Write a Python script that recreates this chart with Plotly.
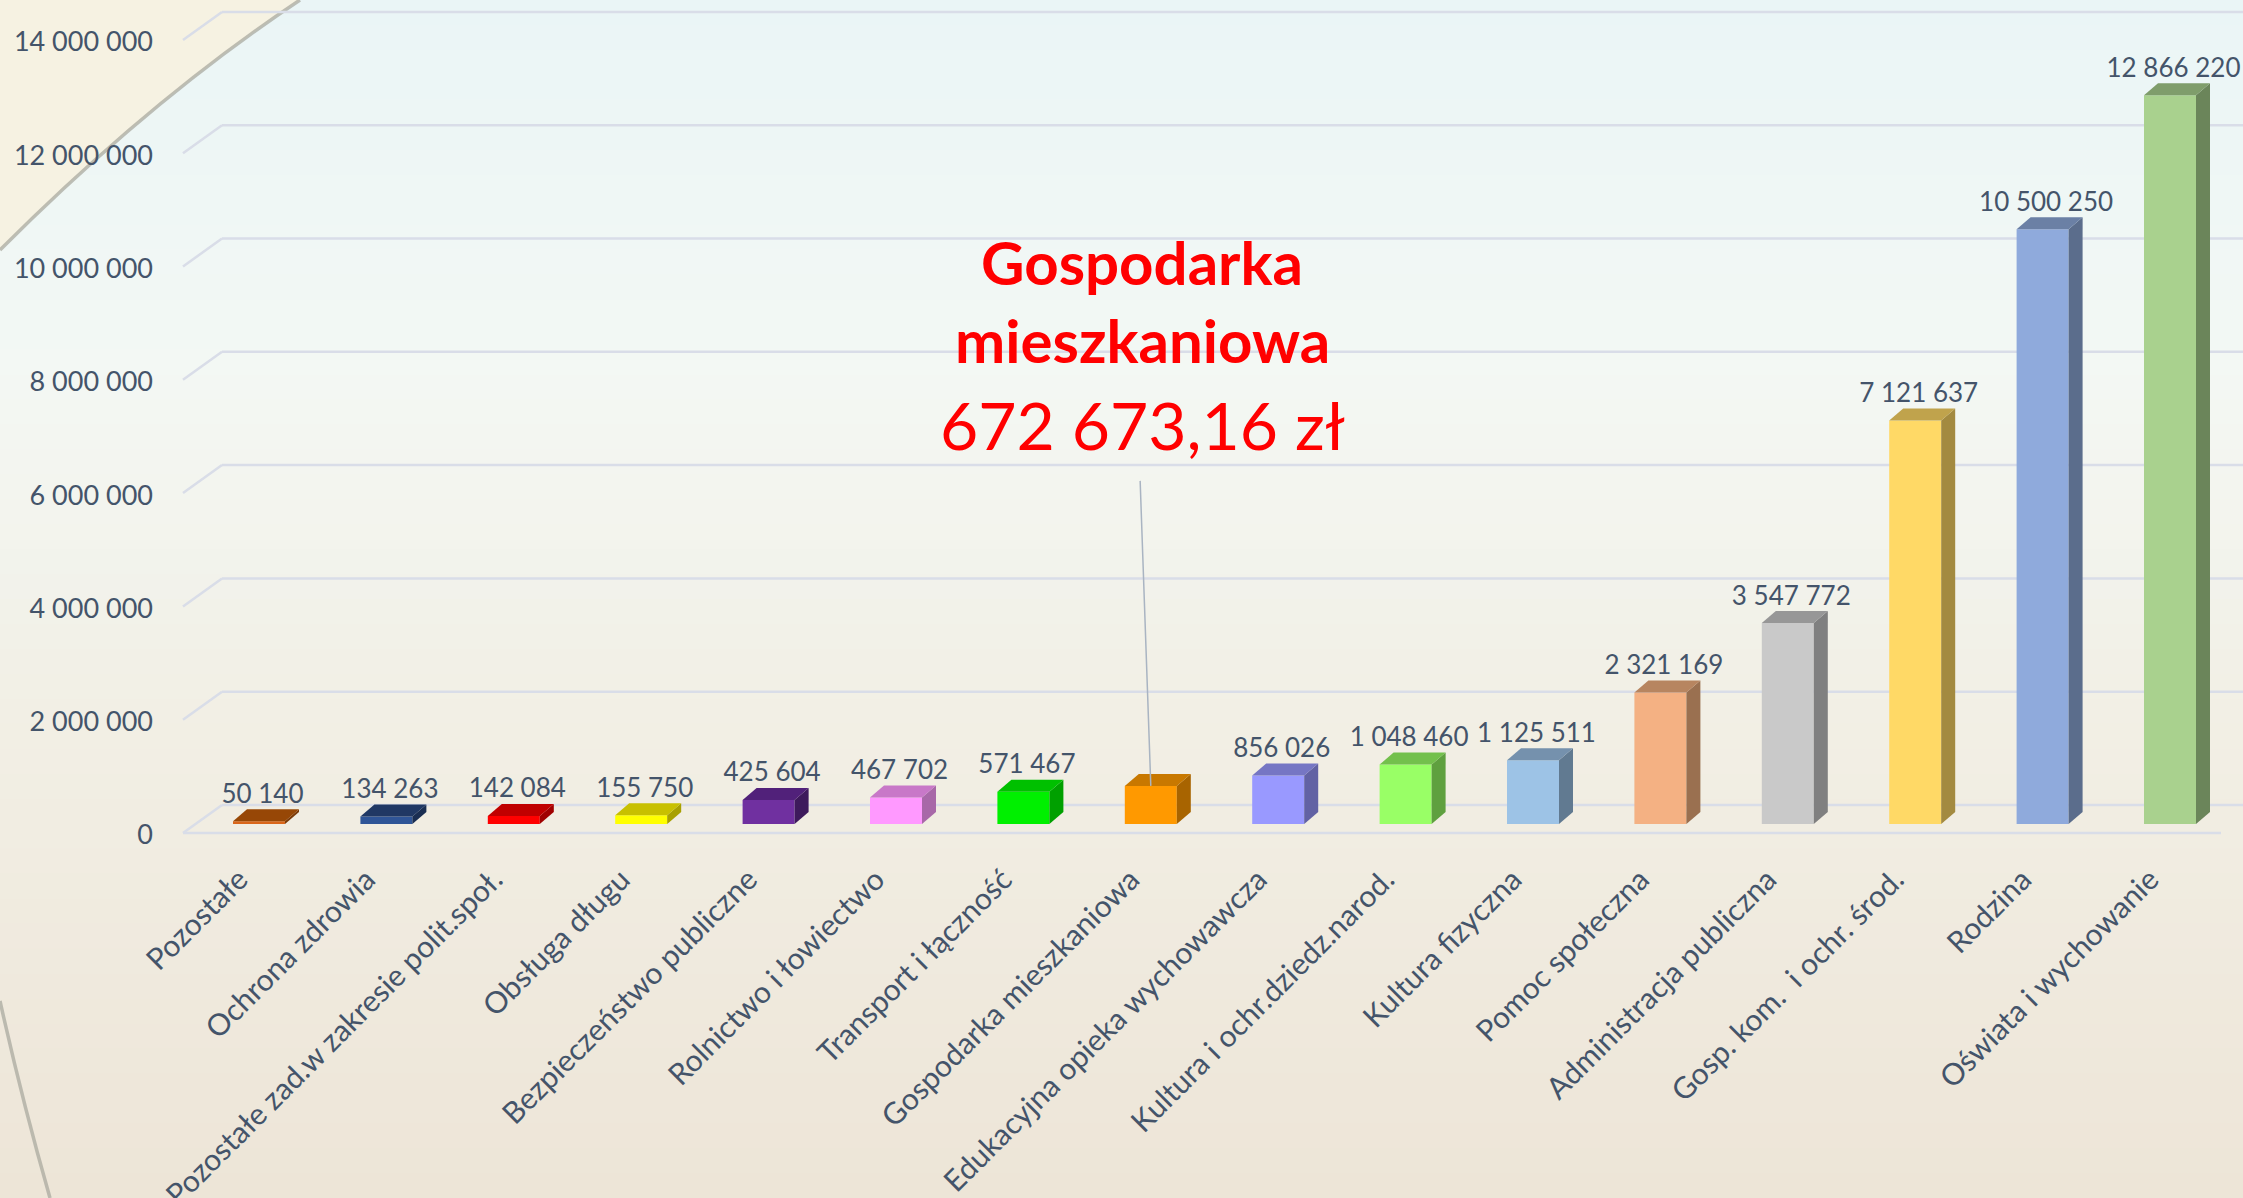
import plotly.graph_objects as go

# ---------------- data ----------------
categories = ["Pozostałe", "Ochrona zdrowia", "Pozostałe zad.w zakresie polit.społ.",
              "Obsługa długu", "Bezpieczeństwo publiczne", "Rolnictwo i łowiectwo",
              "Transport i łączność", "Gospodarka mieszkaniowa",
              "Edukacyjna opieka wychowawcza", "Kultura i ochr.dziedz.narod.",
              "Kultura fizyczna", "Pomoc społeczna", "Administracja publiczna",
              "Gosp. kom.  i ochr. środ.", "Rodzina", "Oświata i wychowanie"]
values = [50140, 134263, 142084, 155750, 425604, 467702, 571467, 672673.16,
          856026, 1048460, 1125511, 2321169, 3547772, 7121637, 10500250, 12866220]
front_colors = ["#D9661B", "#2F5597", "#FF0000", "#FFFF00", "#7030A0", "#FF99FF",
                "#00F000", "#FF9900", "#9999FF", "#99FF66", "#9DC3E6", "#F4B183",
                "#C9C9C9", "#FFD966", "#8FAADC", "#A9D18E"]
top_colors = ["#974706", "#203864", "#C00000", "#C8C000", "#51217A", "#C878C8",
              "#00C000", "#C87800", "#7676C4", "#73C04C", "#7591AD", "#B78560",
              "#979797", "#C0A34C", "#6B80A5", "#7F9D6B"]
side_colors = ["#7A3A08", "#1A2E52", "#A00000", "#A8A000", "#3E1A5C", "#A868A8",
               "#00A000", "#A86400", "#6262A4", "#5FA03F", "#617A91", "#9A7050",
               "#808080", "#A38A40", "#5B6D8C", "#6B855A"]
y_ticks = [0, 2000000, 4000000, 6000000, 8000000, 10000000, 12000000, 14000000]
highlight_index = 7
highlight_title = ["Gospodarka", "mieszkaniowa"]
highlight_value = "672 673,16 zł"

# ---------------- geometry / style ----------------
W, H = 2243, 1198
ML, MR, MT, MB = 205, 0, 0, 365
PW, PH = W - ML - MR, H - MT - MB
CAT_PX = 127.4                     # pixels per category
X0 = (ML - 259) / CAT_PX
X1 = X0 + PW / CAT_PX
PX_PER_UNIT = 56.65e-6             # pixels per zloty
Y0 = -9 / PX_PER_UNIT
Y1 = Y0 + PH / PX_PER_UNIT
BAR_W = 52 / CAT_PX
DX = 14 / CAT_PX                   # 3D depth, x
DY = 12 / PX_PER_UNIT              # 3D depth, y
TXT = "#44546A"
FONT = "Lato"


def px_to_paper_x(px):
    return (px - ML) / PW


def px_to_paper_y(py):
    return (MT + PH - py) / PH


def val_to_paper_y(v):
    return (v - Y0) / (Y1 - Y0)


def fmt(v):
    return f"{int(round(v)):,}".replace(",", " ")


fig = go.Figure()

# front faces
xs = list(range(len(categories)))
fig.add_trace(go.Bar(x=xs, y=values, width=BAR_W, marker=dict(color=front_colors, line=dict(width=0)),
                     hoverinfo="skip", showlegend=False))

# side and top faces (derived from values)
for i, v in enumerate(values):
    xr = i + BAR_W / 2
    xl = i - BAR_W / 2
    fig.add_trace(go.Scatter(x=[xr, xr + DX, xr + DX, xr, xr], y=[0, DY, v + DY, v, 0],
                             fill="toself", fillcolor=side_colors[i], mode="lines",
                             line=dict(width=0, color=side_colors[i]), hoverinfo="skip", showlegend=False))
    fig.add_trace(go.Scatter(x=[xl, xr, xr + DX, xl + DX, xl], y=[v, v, v + DY, v + DY, v],
                             fill="toself", fillcolor=top_colors[i], mode="lines",
                             line=dict(width=0, color=top_colors[i]), hoverinfo="skip", showlegend=False))

# data labels
labels = [("" if i == highlight_index else fmt(v)) for i, v in enumerate(values)]
fig.add_trace(go.Scatter(x=[i + DX / 4 for i in xs], y=[v + DY for v in values], mode="text",
                         text=labels, textposition="top center",
                         textfont=dict(family=FONT, size=26, color=TXT), hoverinfo="skip", showlegend=False))

shapes = []
# background gradient bands
stops = [(0.0, (234, 245, 246)), (0.3, (243, 248, 244)), (0.6, (242, 239, 229)), (1.0, (237, 229, 215))]


def grad(t):
    for (t0, c0), (t1, c1) in zip(stops[:-1], stops[1:]):
        if t <= t1:
            f = (t - t0) / (t1 - t0)
            return "rgb(%d,%d,%d)" % tuple(round(a + (b - a) * f) for a, b in zip(c0, c1))
    return "rgb(%d,%d,%d)" % stops[-1][1]


NB = 48
for k in range(NB):
    ya = k * H / NB
    yb = (k + 1) * H / NB + 1
    shapes.append(dict(type="rect", xref="paper", yref="paper", layer="below",
                       x0=px_to_paper_x(0), x1=px_to_paper_x(W),
                       y0=px_to_paper_y(yb), y1=px_to_paper_y(ya),
                       fillcolor=grad((k + 0.5) / NB), line=dict(width=0)))


# decorative arcs of the slide background
def P(px, py):
    return f"{px_to_paper_x(px):.5f},{px_to_paper_y(py):.5f}"


shapes.append(dict(type="path", xref="paper", yref="paper", layer="below",
                   path=f"M {P(0,0)} L {P(300,0)} Q {P(150,100)} {P(0,250)} Z",
                   fillcolor="#F6F2E2", line=dict(width=0)))
shapes.append(dict(type="path", xref="paper", yref="paper", layer="below",
                   path=f"M {P(300,0)} Q {P(150,100)} {P(0,250)}",
                   line=dict(color="rgba(165,165,155,0.7)", width=3.5)))
shapes.append(dict(type="path", xref="paper", yref="paper", layer="below",
                   path=f"M {P(0,1001)} Q {P(22,1100)} {P(50,1198)}",
                   line=dict(color="rgba(165,165,155,0.7)", width=3.5)))

# back-wall gridlines with slanted floor connectors
GRID = "#D9DDE8"
for t in y_ticks:
    pb = val_to_paper_y(t + 19 / PX_PER_UNIT)
    pf = val_to_paper_y(t - 9 / PX_PER_UNIT)
    shapes.append(dict(type="line", xref="paper", yref="paper", layer="below",
                       x0=px_to_paper_x(222), x1=px_to_paper_x(W), y0=pb, y1=pb,
                       line=dict(color=GRID, width=2.5)))
    shapes.append(dict(type="line", xref="paper", yref="paper", layer="below",
                       x0=px_to_paper_x(183), x1=px_to_paper_x(222), y0=pf, y1=pb,
                       line=dict(color=GRID, width=2.5)))
# front floor edge
shapes.append(dict(type="line", xref="paper", yref="paper", layer="below",
                   x0=px_to_paper_x(183), x1=px_to_paper_x(2221),
                   y0=val_to_paper_y(-9 / PX_PER_UNIT), y1=val_to_paper_y(-9 / PX_PER_UNIT),
                   line=dict(color=GRID, width=2.5)))

annotations = [
    dict(x=highlight_index, y=values[highlight_index], xref="x", yref="y", text=" ",
         showarrow=True, arrowhead=0, arrowwidth=1.5, arrowcolor="#A9B4C2",
         ax=-11, ay=-315, standoff=0, startstandoff=0),
    dict(x=px_to_paper_x(1142), y=px_to_paper_y(262), xref="paper", yref="paper",
         xanchor="center", yanchor="middle",
         text=f"<b>{highlight_title[0]}</b>", showarrow=False,
         font=dict(family=FONT, size=60, color="#FF0000")),
    dict(x=px_to_paper_x(1142), y=px_to_paper_y(340), xref="paper", yref="paper",
         xanchor="center", yanchor="middle",
         text=f"<b>{highlight_title[1]}</b>", showarrow=False,
         font=dict(family=FONT, size=60, color="#FF0000")),
    dict(x=px_to_paper_x(1142), y=px_to_paper_y(424), xref="paper", yref="paper",
         xanchor="center", yanchor="middle",
         text=highlight_value, showarrow=False,
         font=dict(family=FONT, size=66, color="#FF0000")),
]

fig.update_layout(
    width=W, height=H,
    margin=dict(l=ML, r=MR, t=MT, b=MB, pad=0, autoexpand=False),
    paper_bgcolor="rgb(237,229,215)", plot_bgcolor="rgba(0,0,0,0)",
    showlegend=False, shapes=shapes, annotations=annotations,
    xaxis=dict(range=[X0, X1], tickmode="array", tickvals=xs, ticktext=categories,
               tickangle=-45, showgrid=False, zeroline=False, showline=False, ticks="",
               automargin=False, ticklabelstandoff=22, ticklabelshift=-20,
               tickfont=dict(family=FONT, size=30, color=TXT)),
    yaxis=dict(range=[Y0, Y1], tickmode="array", tickvals=y_ticks,
               ticktext=[fmt(t) for t in y_ticks], showgrid=False, zeroline=False,
               showline=False, ticks="", automargin=False,
               ticklabelstandoff=51, ticklabelshift=11,
               tickfont=dict(family=FONT, size=27, color=TXT)),
)

fig.write_html("out.html", config={"displayModeBar": False},
               post_script="document.body.style.margin='0';document.body.style.padding='0';"
                           "document.body.style.overflow='hidden';")
